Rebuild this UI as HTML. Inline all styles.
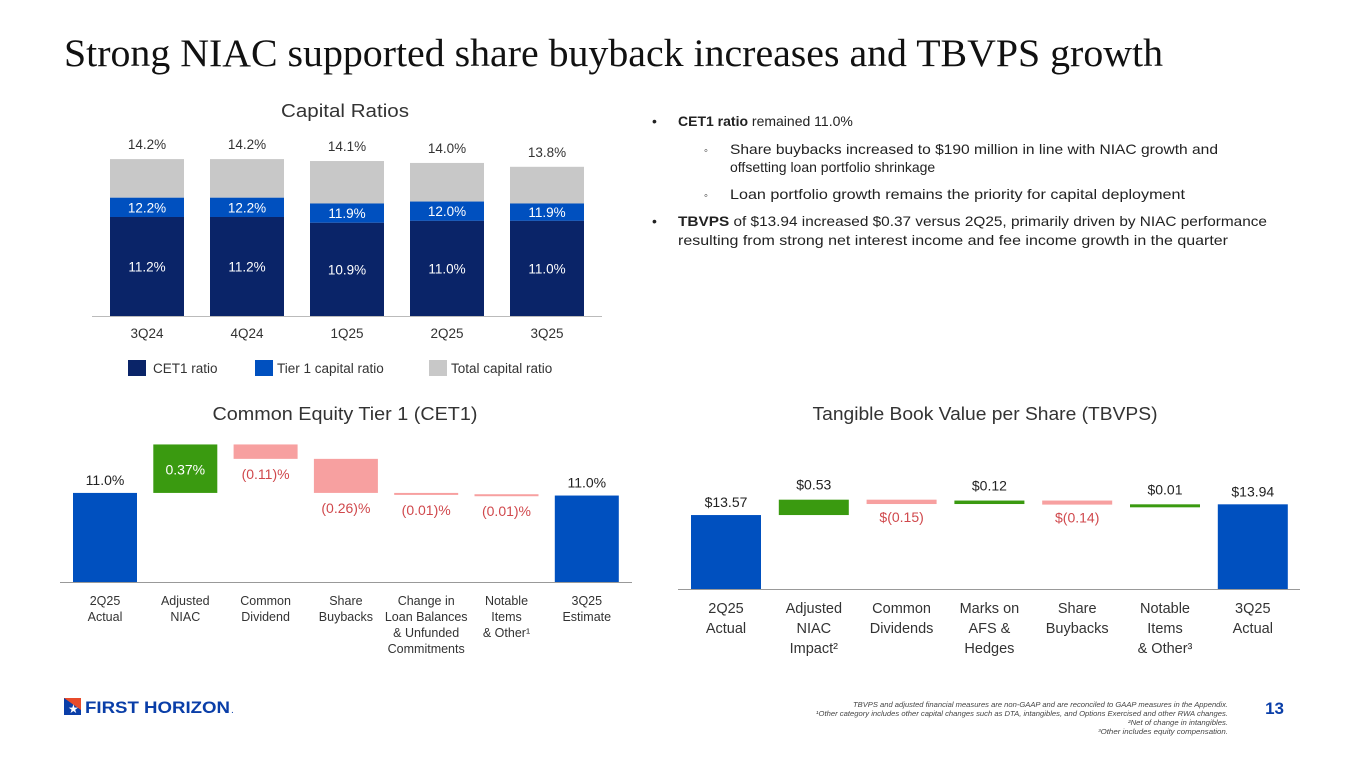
<!DOCTYPE html>
<html><head><meta charset="utf-8">
<style>
body{margin:0;width:1365px;height:768px;background:#fff;overflow:hidden;position:relative;font-family:"Liberation Sans",sans-serif;}
svg{position:absolute;left:0;top:0}
.t{font-family:"Liberation Sans",sans-serif;}
</style></head>
<body>
<svg width="1365" height="768" id="s">
<text x="64" y="66" font-family="Liberation Serif,serif" font-size="39" fill="#111" textLength="1099" lengthAdjust="spacingAndGlyphs">Strong NIAC supported share buyback increases and TBVPS growth</text>

<text x="345" y="117" text-anchor="middle" font-size="18" fill="#333" class="t" textLength="128" lengthAdjust="spacingAndGlyphs">Capital Ratios</text>
<g id="cap"></g>
<g font-size="13.5" fill="#333" class="t">
<rect x="128" y="360" width="18" height="16" fill="#0a2468"/>
<text x="153" y="373">CET1 ratio</text>
<rect x="255" y="360" width="18" height="16" fill="#0050bf"/>
<text x="277" y="373">Tier 1 capital ratio</text>
<rect x="429" y="360" width="18" height="16" fill="#c8c8c8"/>
<text x="451" y="373">Total capital ratio</text>
</g>

<g class="t" font-size="14" fill="#222">
<text x="652" y="126">•</text>
<text x="678" y="126"><tspan font-weight="bold">CET1 ratio</tspan> remained  11.0%</text>
<text x="704" y="154" font-size="11">◦</text>
<text x="730" y="154" textLength="488" lengthAdjust="spacingAndGlyphs">Share buybacks increased to $190 million in line with NIAC growth and</text>
<text x="730" y="172">offsetting loan portfolio shrinkage</text>
<text x="704" y="199" font-size="11">◦</text>
<text x="730" y="199" textLength="455" lengthAdjust="spacingAndGlyphs">Loan portfolio growth remains the priority for capital deployment</text>
<text x="652" y="226">•</text>
<text x="678" y="226" textLength="589" lengthAdjust="spacingAndGlyphs"><tspan font-weight="bold">TBVPS</tspan> of $13.94 increased $0.37 versus 2Q25, primarily driven by NIAC performance</text>
<text x="678" y="245" textLength="550" lengthAdjust="spacingAndGlyphs">resulting from strong net interest income and fee income growth in the quarter</text>
</g>

<text x="345" y="420" text-anchor="middle" font-size="18" fill="#333" class="t" textLength="265" lengthAdjust="spacingAndGlyphs">Common Equity Tier 1 (CET1)</text>
<text x="985" y="420" text-anchor="middle" font-size="18" fill="#333" class="t" textLength="345" lengthAdjust="spacingAndGlyphs">Tangible Book Value per Share (TBVPS)</text>
<g id="cet"></g>
<g id="tbv"></g>

<g>
<rect x="64" y="698" width="17" height="17" fill="#0a3ea8"/>
<polygon points="64,698 81,698 81,710" fill="#e84b2b"/>
<text x="68" y="713" font-size="12" fill="#fff">★</text>
<text x="85" y="713" font-size="17" font-weight="bold" fill="#0a3ea8" class="t" textLength="145" lengthAdjust="spacingAndGlyphs">FIRST HORIZON</text>
<text x="231" y="713" font-size="10" fill="#0a3ea8">.</text>
</g>
<g class="t" font-size="7" font-style="italic" fill="#444" text-anchor="end">
<text x="1228" y="707" textLength="375" lengthAdjust="spacingAndGlyphs">TBVPS and adjusted financial measures are non-GAAP and are reconciled to GAAP measures in the Appendix.</text>
<text x="1228" y="716" textLength="412" lengthAdjust="spacingAndGlyphs">¹Other category includes other capital changes such as DTA, intangibles, and Options Exercised and other RWA changes.</text>
<text x="1228" y="725" textLength="100" lengthAdjust="spacingAndGlyphs">²Net of change in intangibles.</text>
<text x="1228" y="734" textLength="130" lengthAdjust="spacingAndGlyphs">³Other includes equity compensation.</text>
</g>
<text x="1284" y="714" font-size="17" font-weight="bold" fill="#0a3ea8" text-anchor="end" class="t">13</text>
</svg>
<script>
// Capital ratios data
const capCats=["3Q24","4Q24","1Q25","2Q25","3Q25"];
const cet1=[11.2,11.2,10.9,11.0,11.0];
const tier1=[12.2,12.2,11.9,12.0,11.9];
const totalCap=[14.2,14.2,14.1,14.0,13.8];
// CET1 waterfall data
const cetCats=[["2Q25","Actual"],["Adjusted","NIAC"],["Common","Dividend"],["Share","Buybacks"],["Change in","Loan Balances","& Unfunded","Commitments"],["Notable","Items","& Other¹"],["3Q25","Estimate"]];
const cetVals=[11.0,0.37,-0.11,-0.26,-0.01,-0.01,null];
const cetLabels=["11.0%","0.37%","(0.11)%","(0.26)%","(0.01)%","(0.01)%","11.0%"];
// TBVPS waterfall data
const tbvCats=[["2Q25","Actual"],["Adjusted","NIAC","Impact²"],["Common","Dividends"],["Marks on","AFS &","Hedges"],["Share","Buybacks"],["Notable","Items","& Other³"],["3Q25","Actual"]];
const tbvVals=[13.57,0.53,-0.15,0.12,-0.14,0.01,null];
const tbvLabels=["$13.57","$0.53","$(0.15)","$0.12","$(0.14)","$0.01","$13.94"];

const NS="http://www.w3.org/2000/svg";
function mk(p,tag,a,txt){const e=document.createElementNS(NS,tag);for(const k in a)e.setAttribute(k,a[k]);if(txt!=null)e.textContent=txt;p.appendChild(e);return e;}

(function(){
 const g=document.getElementById('cap');
 const base=316,min=6.07,k=19.3;
 const y=v=>base-(v-min)*k;
 const x=i=>110+i*100,w=74;
 mk(g,'line',{x1:92,x2:602,y1:base+0.5,y2:base+0.5,stroke:'#bbb'});
 capCats.forEach((c,i)=>{
  let r=mk(g,'rect',{x:x(i),y:y(totalCap[i]),width:w,height:y(tier1[i])-y(totalCap[i]),fill:'#c8c8c8'});
  
  
  r=mk(g,'rect',{x:x(i),y:y(tier1[i]),width:w,height:y(cet1[i])-y(tier1[i]),fill:'#0050bf'});
  
  
  r=mk(g,'rect',{x:x(i),y:y(cet1[i]),width:w,height:base-y(cet1[i]),fill:'#0a2468'});
  
  
  const cx=x(i)+w/2;
  let t=mk(g,'text',{x:cx,y:y(totalCap[i])-10,'text-anchor':'middle','font-size':13.5,fill:'#333'},totalCap[i].toFixed(1)+'%');
  
  
  t=mk(g,'text',{x:cx,y:(y(tier1[i])+y(cet1[i]))/2+5,'text-anchor':'middle','font-size':13.5,fill:'#fff'},tier1[i].toFixed(1)+'%');
  
  
  t=mk(g,'text',{x:cx,y:(y(cet1[i])+base)/2+5,'text-anchor':'middle','font-size':13.5,fill:'#fff'},cet1[i].toFixed(1)+'%');
  
  
  t=mk(g,'text',{x:cx,y:338,'text-anchor':'middle','font-size':13.5,fill:'#333'},c);
  
  
 });
})();

function waterfall(id,cats,vals,labels,o){
 const g=document.getElementById(id);
 const y=v=>o.base-(v-o.min)*o.k;
 const x=i=>o.x0+i*o.step;
 mk(g,'line',{x1:o.l1,x2:o.l2,y1:o.base+0.5,y2:o.base+0.5,stroke:'#999'});
 let run=0;
 vals.forEach((v,i)=>{
  let top,bot,fill,lab,lcol='#222';
  const cx=x(i)+o.w/2;
  if(i===0||v===null){
   if(i===0)run=v;
   top=y(run);bot=o.base;fill='#0050bf';lab=top-8;
  }else{
   const a=run,b=run+v;run=b;
   top=y(Math.max(a,b));bot=y(Math.min(a,b));
   if(bot-top<o.minH){bot=top+o.minH;}
   fill=v>=0?'#3a9a10':'#f7a0a0';
   if(v<0){lab=bot+o.negGap;lcol='#d0484c';}
   else lab=(o.inside&&bot-top>25)?(top+bot)/2+6:top-o.posGap;
   if(o.inside&&v>=0&&bot-top>25)lcol='#fff';
  }
  const r=mk(g,'rect',{x:x(i),y:top,width:o.w,height:Math.max(bot-top,1),fill:fill});
  
  
  const t=mk(g,'text',{x:cx,y:lab,'text-anchor':'middle','font-size':o.fs,fill:lcol},labels[i]);
  
  
  cats[i].forEach((ln,j)=>{
   const c=mk(g,'text',{x:cx,y:o.catY+j*o.lh,'text-anchor':'middle','font-size':o.cfs,fill:'#333'},ln);
   
   
  });
 });
}
waterfall('cet',cetCats,cetVals,cetLabels,{base:582,min:10.32,k:131,x0:73,step:80.3,w:64,l1:60,l2:632,minH:2,negGap:20,posGap:10,inside:true,fs:14,catY:605,lh:16,cfs:12.5});
waterfall('tbv',tbvCats,tbvVals,tbvLabels,{base:589,min:11.02,k:29,x0:691,step:87.8,w:70,l1:678,l2:1300,minH:3,negGap:18,posGap:10,inside:false,fs:14,catY:613,lh:20,cfs:14.5});
</script>
</body></html>
